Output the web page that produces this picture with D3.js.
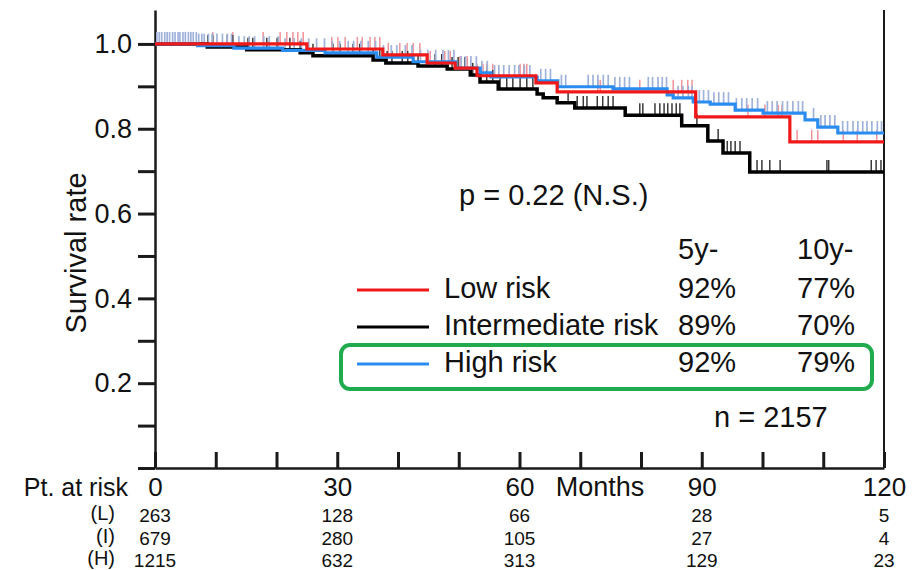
<!DOCTYPE html>
<html>
<head>
<meta charset="utf-8">
<script src="https://cdn.jsdelivr.net/npm/d3@7"></script>
<style>
  body { margin: 0; background: #fff; }
  svg text { font-family: "Liberation Sans", Arial, Helvetica, sans-serif; fill: #111; }
</style>
</head>
<body>
<svg id="chart" width="922" height="570"></svg>
<script>
// step curves: time (months) where the survival drops, and the new value
let lowTimes  = [0, 25.0, 37.5, 44.8, 49.4, 53.0, 62.7, 66.2, 89.0, 104.5];
let lowSurv   = [1.0, 0.988, 0.974, 0.955, 0.943, 0.925, 0.908, 0.887, 0.828, 0.769];
let intTimes  = [0, 8.6, 15.1, 23.9, 26.0, 35.9, 38.0, 43.3, 48.1, 51.9, 53.5, 56.5, 62.9, 63.9, 66.2, 69.1, 77.4, 86.7, 91.0, 93.5, 97.9];
let intSurv   = [1.0, 0.993, 0.986, 0.979, 0.972, 0.962, 0.955, 0.948, 0.941, 0.927, 0.910, 0.894, 0.882, 0.873, 0.861, 0.849, 0.832, 0.807, 0.771, 0.743, 0.698];
let highTimes = [0, 7, 13, 21, 28, 36.5, 42.5, 49.5, 53.5, 55.3, 62.9, 66.3, 75.4, 84.3, 85.3, 88.6, 91.4, 95.5, 100.1, 107.0, 109.1, 112.4];
let highSurv  = [1.0, 0.996, 0.990, 0.985, 0.979, 0.969, 0.958, 0.943, 0.932, 0.922, 0.913, 0.899, 0.894, 0.880, 0.873, 0.863, 0.858, 0.844, 0.837, 0.821, 0.804, 0.790];

// censored observations (months)
let lowCens = [9.5, 12.8, 17.8, 20.6, 21.7, 22.7, 23.5, 24.4, 29.1, 30.1, 31.3, 33.3, 34.1, 35.4, 36.2, 37.0, 38.4, 40.3,
  41.5, 42.5, 43.6, 45.3, 47.7, 48.6, 50.2, 51.4, 53.0, 54.0, 54.6, 55.6, 60.1, 60.7, 61.2, 72.9, 73.3, 79.8, 85.3, 86.7,
  87.7, 88.4, 89.2, 97.6, 100.4, 102.6, 103.2, 105.7, 108.1, 109.1, 113.3, 115.6, 118.8];
let intCens = [8.7, 9.5, 11.9, 12.8, 15.3, 16.1, 18.4, 20.1, 22.2, 23.9, 26.0, 29.3, 30.5, 32.6, 33.7, 35.9, 37.0, 38.2,
  39.0, 40.7, 41.6, 43.3, 44.8, 46.1, 47.2, 48.9, 49.9, 51.0, 52.3, 53.5, 54.6, 55.6, 56.8, 57.9, 58.9, 60.1, 61.2, 62.2,
  68.0, 69.5, 70.5, 71.1, 72.8, 73.7, 74.6, 75.4, 79.8, 80.3, 82.3, 83.1, 83.8, 84.4, 85.1, 85.8, 86.4, 89.2, 92.7, 94.2,
  94.8, 95.5, 96.3, 99.1, 99.9, 101.2, 102.9, 110.6, 110.9, 117.9, 118.7, 119.5];
let highCens = [0.3, 0.7, 1.1, 1.6, 2.0, 2.4, 2.9, 3.3, 3.8, 4.1, 4.6, 5.0, 5.5, 5.9, 6.3, 6.8, 7.2, 7.7, 8.1, 8.8, 9.4,
  10.2, 11.1, 11.9, 12.6, 13.8, 14.7, 15.5, 16.4, 17.9, 18.8, 20.3, 21.4, 22.9, 24.1, 25.3, 26.6, 27.9, 29.2, 30.4, 31.8,
  32.7, 33.9, 35.1, 36.3, 37.6, 38.9, 39.8, 41.2, 42.3, 43.7, 44.9, 46.2, 47.4, 48.3, 49.2, 50.4, 51.1, 52.0, 52.9, 53.8,
  54.7, 55.9, 56.6, 57.4, 58.3, 59.2, 59.9, 60.8, 61.7, 63.5, 64.3, 65.1, 66.9, 67.6, 71.3, 72.1, 72.9, 73.8, 74.6, 75.7,
  76.5, 77.3, 78.1, 81.2, 81.9, 82.8, 83.5, 84.2, 86.1, 86.9, 87.8, 88.4, 89.6, 90.3, 91.1, 92.0, 92.8, 93.6, 94.4, 95.7,
  96.6, 97.4, 98.3, 99.2, 100.8, 101.6, 102.4, 103.3, 104.1, 105.0, 105.9, 106.6, 108.4, 109.6, 110.3, 111.1, 111.9,
  113.2, 114.0, 114.9, 115.7, 116.5, 117.2, 118.0, 118.9, 119.6];

// legend / summary table
let groupNames = ["Low risk", "Intermediate risk", "High risk"];
let fiveYear = ["92%", "89%", "92%"];
let tenYear = ["77%", "70%", "79%"];

// numbers at risk
let riskTimes = [0, 30, 60, 90, 120];
let riskLabels = ["(L)", "(I)", "(H)"];
let riskLow = [263, 128, 66, 28, 5];
let riskInt = [679, 280, 105, 27, 4];
let riskHigh = [1215, 632, 313, 129, 23];

let svg = d3.select("#chart");

let x = d3.scaleLinear().domain([0, 120]).range([155, 884]);
let y = d3.scaleLinear().domain([0, 1.08]).range([468, 10]);

let groups = [
  { times: lowTimes, surv: lowSurv, cens: lowCens, color: "#f01818", cens_color: "#f0939a", width: 3.2, cw: 1.5 },
  { times: intTimes, surv: intSurv, cens: intCens, color: "#000", cens_color: "#3a3a3a", width: 3.5, cw: 1.5 },
  { times: highTimes, surv: highSurv, cens: highCens, color: "#2b8cf0", cens_color: "#9fb2da", width: 3.2, cw: 1.7 }
];

function survAt(g, t) {
  let i = d3.bisectRight(g.times, t) - 1;
  return g.surv[Math.max(i, 0)];
}

// axes
let yAxis = d3.axisLeft(y)
  .tickValues(d3.range(0, 1.01, 0.1))
  .tickSize(17)
  .tickSizeOuter(0)
  .tickPadding(6)
  .tickFormat(d => (Math.round(d * 10) % 2 === 0 && d > 0.05) ? d3.format(".1f")(d) : "");

let gy = svg.append("g")
  .attr("transform", "translate(" + x(0) + ",0)")
  .call(yAxis);
gy.select(".domain").attr("stroke", "#1a1a1a").attr("stroke-width", 2.5);
gy.selectAll(".tick line").attr("stroke", "#1a1a1a").attr("stroke-width", 3);
gy.selectAll(".tick text").style("font-size", "27px").attr("fill", "#111");

let xAxis = d3.axisBottom(x)
  .tickValues(d3.range(0, 121, 10))
  .tickSize(-16)
  .tickSizeOuter(0)
  .tickFormat(d => riskTimes.indexOf(d) >= 0 ? d : "");

let gx = svg.append("g")
  .attr("transform", "translate(0," + y(0) + ")")
  .call(xAxis);
gx.select(".domain").attr("stroke", "#1a1a1a").attr("stroke-width", 2.5);
gx.selectAll(".tick line").attr("stroke", "#1a1a1a").attr("stroke-width", 3);
gx.selectAll(".tick text")
  .attr("y", 28).attr("dy", null)
  .style("font-size", "26px").attr("fill", "#111");

// right frame line
svg.append("line")
  .attr("x1", x(120)).attr("x2", x(120))
  .attr("y1", y(1.08)).attr("y2", y(0))
  .attr("stroke", "#1a1a1a").attr("stroke-width", 2);

svg.append("text")
  .attr("transform", "translate(86,253) rotate(-90)")
  .attr("text-anchor", "middle")
  .style("font-size", "29px")
  .text("Survival rate");

svg.append("text")
  .attr("x", 600).attr("y", 496)
  .attr("text-anchor", "middle")
  .style("font-size", "27px")
  .text("Months");

// censor marks
groups.forEach(function(g) {
  svg.append("g").selectAll("line")
    .data(g.cens).enter().append("line")
    .attr("x1", d => x(d)).attr("x2", d => x(d))
    .attr("y1", d => y(survAt(g, d)) - 12)
    .attr("y2", d => y(survAt(g, d)))
    .attr("stroke", g.cens_color)
    .attr("stroke-width", g.cw);
});

// survival curves (black, blue, then red on top)
let line = d3.line()
  .x(d => x(d[0]))
  .y(d => y(d[1]))
  .curve(d3.curveStepAfter);

[groups[1], groups[2], groups[0]].forEach(function(g) {
  let pts = g.times.map((t, i) => [t, g.surv[i]]);
  pts.push([120, g.surv[g.surv.length - 1]]);
  svg.append("path")
    .datum(pts)
    .attr("d", line)
    .attr("fill", "none")
    .attr("stroke", g.color)
    .attr("stroke-width", g.width);
});

// p value
svg.append("text")
  .attr("x", 459).attr("y", 205)
  .style("font-size", "29px")
  .text("p = 0.22 (N.S.)");

// legend table
let rowY = [298, 335, 372];
svg.append("text").attr("x", 678).attr("y", 259).style("font-size", "29px").text("5y-");
svg.append("text").attr("x", 797).attr("y", 259).style("font-size", "29px").text("10y-");

let leg = svg.append("g").selectAll("g")
  .data(groupNames).enter().append("g");
leg.append("line")
  .attr("x1", 357).attr("x2", 429)
  .attr("y1", (d, i) => rowY[i] - 8).attr("y2", (d, i) => rowY[i] - 8)
  .attr("stroke", (d, i) => groups[i].color)
  .attr("stroke-width", 3);
leg.append("text").attr("x", 444).attr("y", (d, i) => rowY[i]).style("font-size", "29px").text(d => d);
leg.append("text").attr("x", 678).attr("y", (d, i) => rowY[i]).style("font-size", "29px").text((d, i) => fiveYear[i]);
leg.append("text").attr("x", 797).attr("y", (d, i) => rowY[i]).style("font-size", "29px").text((d, i) => tenYear[i]);

// highlight box round the high risk row
svg.append("rect")
  .attr("x", 341).attr("y", 345)
  .attr("width", 531).attr("height", 44)
  .attr("rx", 9).attr("ry", 9)
  .attr("fill", "none")
  .attr("stroke", "#1fab4e")
  .attr("stroke-width", 4);

svg.append("text")
  .attr("x", 714).attr("y", 427)
  .style("font-size", "29px")
  .text("n = 2157");

// numbers at risk table
svg.append("text")
  .attr("x", 128).attr("y", 496)
  .attr("text-anchor", "end")
  .style("font-size", "25px")
  .text("Pt. at risk");

let riskRows = [riskLow, riskInt, riskHigh];
let riskY = [522, 545, 567];
riskRows.forEach(function(row, r) {
  svg.append("text")
    .attr("x", 115).attr("y", riskY[r] - 2)
    .attr("text-anchor", "end")
    .style("font-size", "20px")
    .text(riskLabels[r]);
  svg.append("g").selectAll("text")
    .data(row).enter().append("text")
    .attr("x", (d, i) => x(riskTimes[i]))
    .attr("y", riskY[r])
    .attr("text-anchor", "middle")
    .style("font-size", "19px")
    .text(d => d);
});
</script>
</body>
</html>
